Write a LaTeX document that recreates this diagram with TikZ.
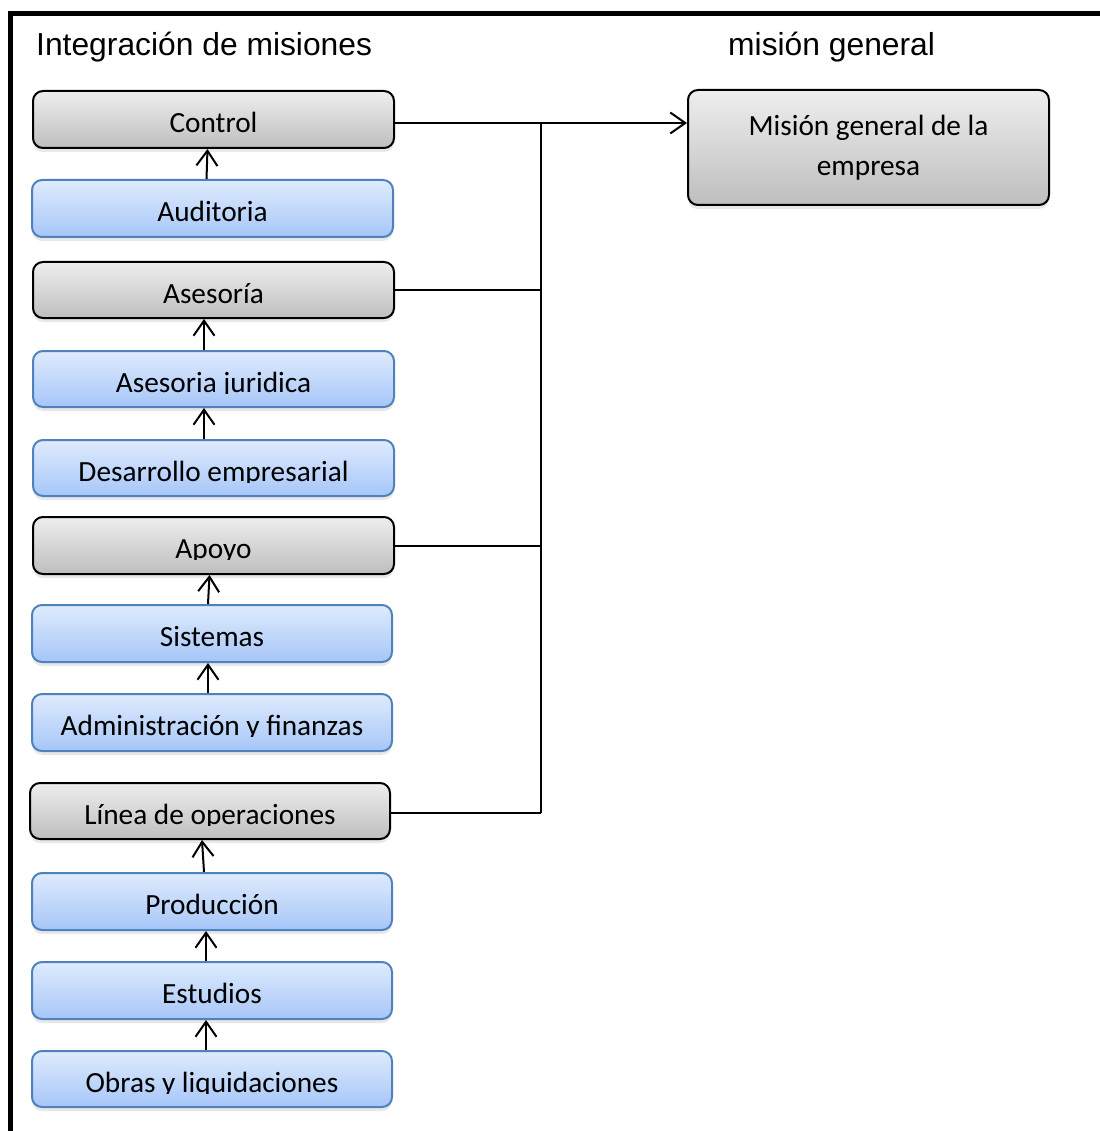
\documentclass[tikz,border=0pt]{standalone}
\usepackage{fontspec}
\setmainfont{Carlito}
\newfontfamily\arialf{Liberation Sans}
\usetikzlibrary{arrows.meta,shadows}
\definecolor{grayT}{RGB}{238,238,238}
\definecolor{grayB}{RGB}{190,190,190}
\definecolor{blueT}{RGB}{223,235,253}
\definecolor{blueB}{RGB}{166,198,248}
\definecolor{blueD}{RGB}{79,129,189}
\tikzset{
 basebox/.style={rounded corners=10pt, line width=2pt, minimum width=361pt, minimum height=57pt, inner sep=0pt,
   drop shadow={shadow xshift=0pt, shadow yshift=-4pt, opacity=0.18}},
 graybox/.style={basebox, draw=black, top color=grayT, bottom color=grayB},
 bluebox/.style={basebox, draw=blueD, top color=blueT, bottom color=blueB},
 lbl/.style={font=\fontsize{29.3}{35}\selectfont, inner sep=0pt, anchor=base},
 link/.style={line width=2pt},
 arr/.style={line width=2pt, -{Straight Barb[length=15pt,width=21pt,line width=2pt]}},
 titletxt/.style={font=\arialf\fontsize{31.8}{38}\selectfont, inner sep=0pt, anchor=base west},
}
\newcommand\mkbl[3]{%
 \begin{scope}
 \clip ([yshift=5pt]#1.north west) rectangle ([yshift=-43.3pt]#1.north east);
 \node[lbl] (#2) at ([yshift=-42.5pt]#1.north) {#3};
 \end{scope}}
\begin{document}
\begin{tikzpicture}[x=1pt,y=-1pt]
\useasboundingbox (0,0) rectangle (1099,1131);
% frame
\draw[line width=5pt, line join=miter] (10.5,1140) -- (10.5,13.5) -- (1110,13.5);
% titles
\node[titletxt] (t1) at (36,55.5) {Integración de misiones};
\node[titletxt] (t2) at (728,55.5) {misión general};
% boxes
\node[graybox] (ctrl) at (213.5,119.5) {};
\node[bluebox] (aud) at (212.5,208.5) {};
\node[graybox, minimum height=56pt] (ases) at (213.5,290) {};
\node[bluebox, minimum height=56pt] (jur) at (213.5,379) {};
\node[bluebox, minimum height=56pt] (des) at (213.5,468) {};
\node[graybox] (apoyo) at (213.5,545.5) {};
\node[bluebox, minimum width=360pt] (sis) at (212,633.5) {};
\node[bluebox, minimum width=360pt] (adm) at (212,722.5) {};
\node[graybox, minimum width=360pt, minimum height=56pt] (lin) at (210,811) {};
\node[bluebox, minimum width=360pt] (prod) at (212,901.5) {};
\node[bluebox, minimum width=360pt] (est) at (212,990.5) {};
\node[bluebox, minimum width=360pt, minimum height=56pt] (obras) at (212,1079) {};
\node[graybox, minimum height=115pt, align=center, font=\fontsize{29.3}{40}\selectfont] (mision) at (868.5,147.5) {Misión general de la\\empresa};
% labels
\mkbl{ctrl}{ctrlT}{Control}
\mkbl{aud}{audT}{Auditoria}
\mkbl{ases}{asesT}{Asesoría}
\mkbl{jur}{jurT}{Asesoria juridica}
\mkbl{des}{desT}{Desarrollo empresarial}
\mkbl{apoyo}{apoyoT}{Apoyo}
\mkbl{sis}{sisT}{Sistemas}
\mkbl{adm}{admT}{Administración y finanzas}
\mkbl{lin}{linT}{Línea de operaciones}
\mkbl{prod}{prodT}{Producción}
\mkbl{est}{estT}{Estudios}
\mkbl{obras}{obrasT}{Obras y liquidaciones}
% vertical arrows
\draw[arr] ([xshift=-6pt]aud.north) -- ([xshift=-6pt]ctrl.south);
\draw[arr] ([xshift=-9.5pt]jur.north) -- ([xshift=-9.5pt]ases.south);
\draw[arr] ([xshift=-9.5pt]des.north) -- ([xshift=-9.5pt]jur.south);
\draw[arr] ([xshift=-4pt]sis.north) -- ([xshift=-4pt]apoyo.south);
\draw[arr] ([xshift=-4pt]adm.north) -- ([xshift=-4pt]sis.south);
\draw[arr] ([xshift=-8pt]prod.north) -- ([xshift=-8pt]lin.south);
\draw[arr] ([xshift=-6pt]est.north) -- ([xshift=-6pt]prod.south);
\draw[arr] ([xshift=-6pt]obras.north) -- ([xshift=-6pt]est.south);
% bus
\coordinate (bus1) at (541,123);
\coordinate (bus4) at (541,813);
\draw[link] (bus1) -- (bus4);
\draw[arr] ([yshift=-3.5pt]ctrl.east) -- (bus1) -- (bus1 -| mision.west);
\draw[link] (ases.east) -- (ases.east -| bus1);
\draw[link] (apoyo.east) -- (apoyo.east -| bus1);
\draw[link] ([yshift=-2pt]lin.east) -- (bus4);
\end{tikzpicture}
\end{document}
